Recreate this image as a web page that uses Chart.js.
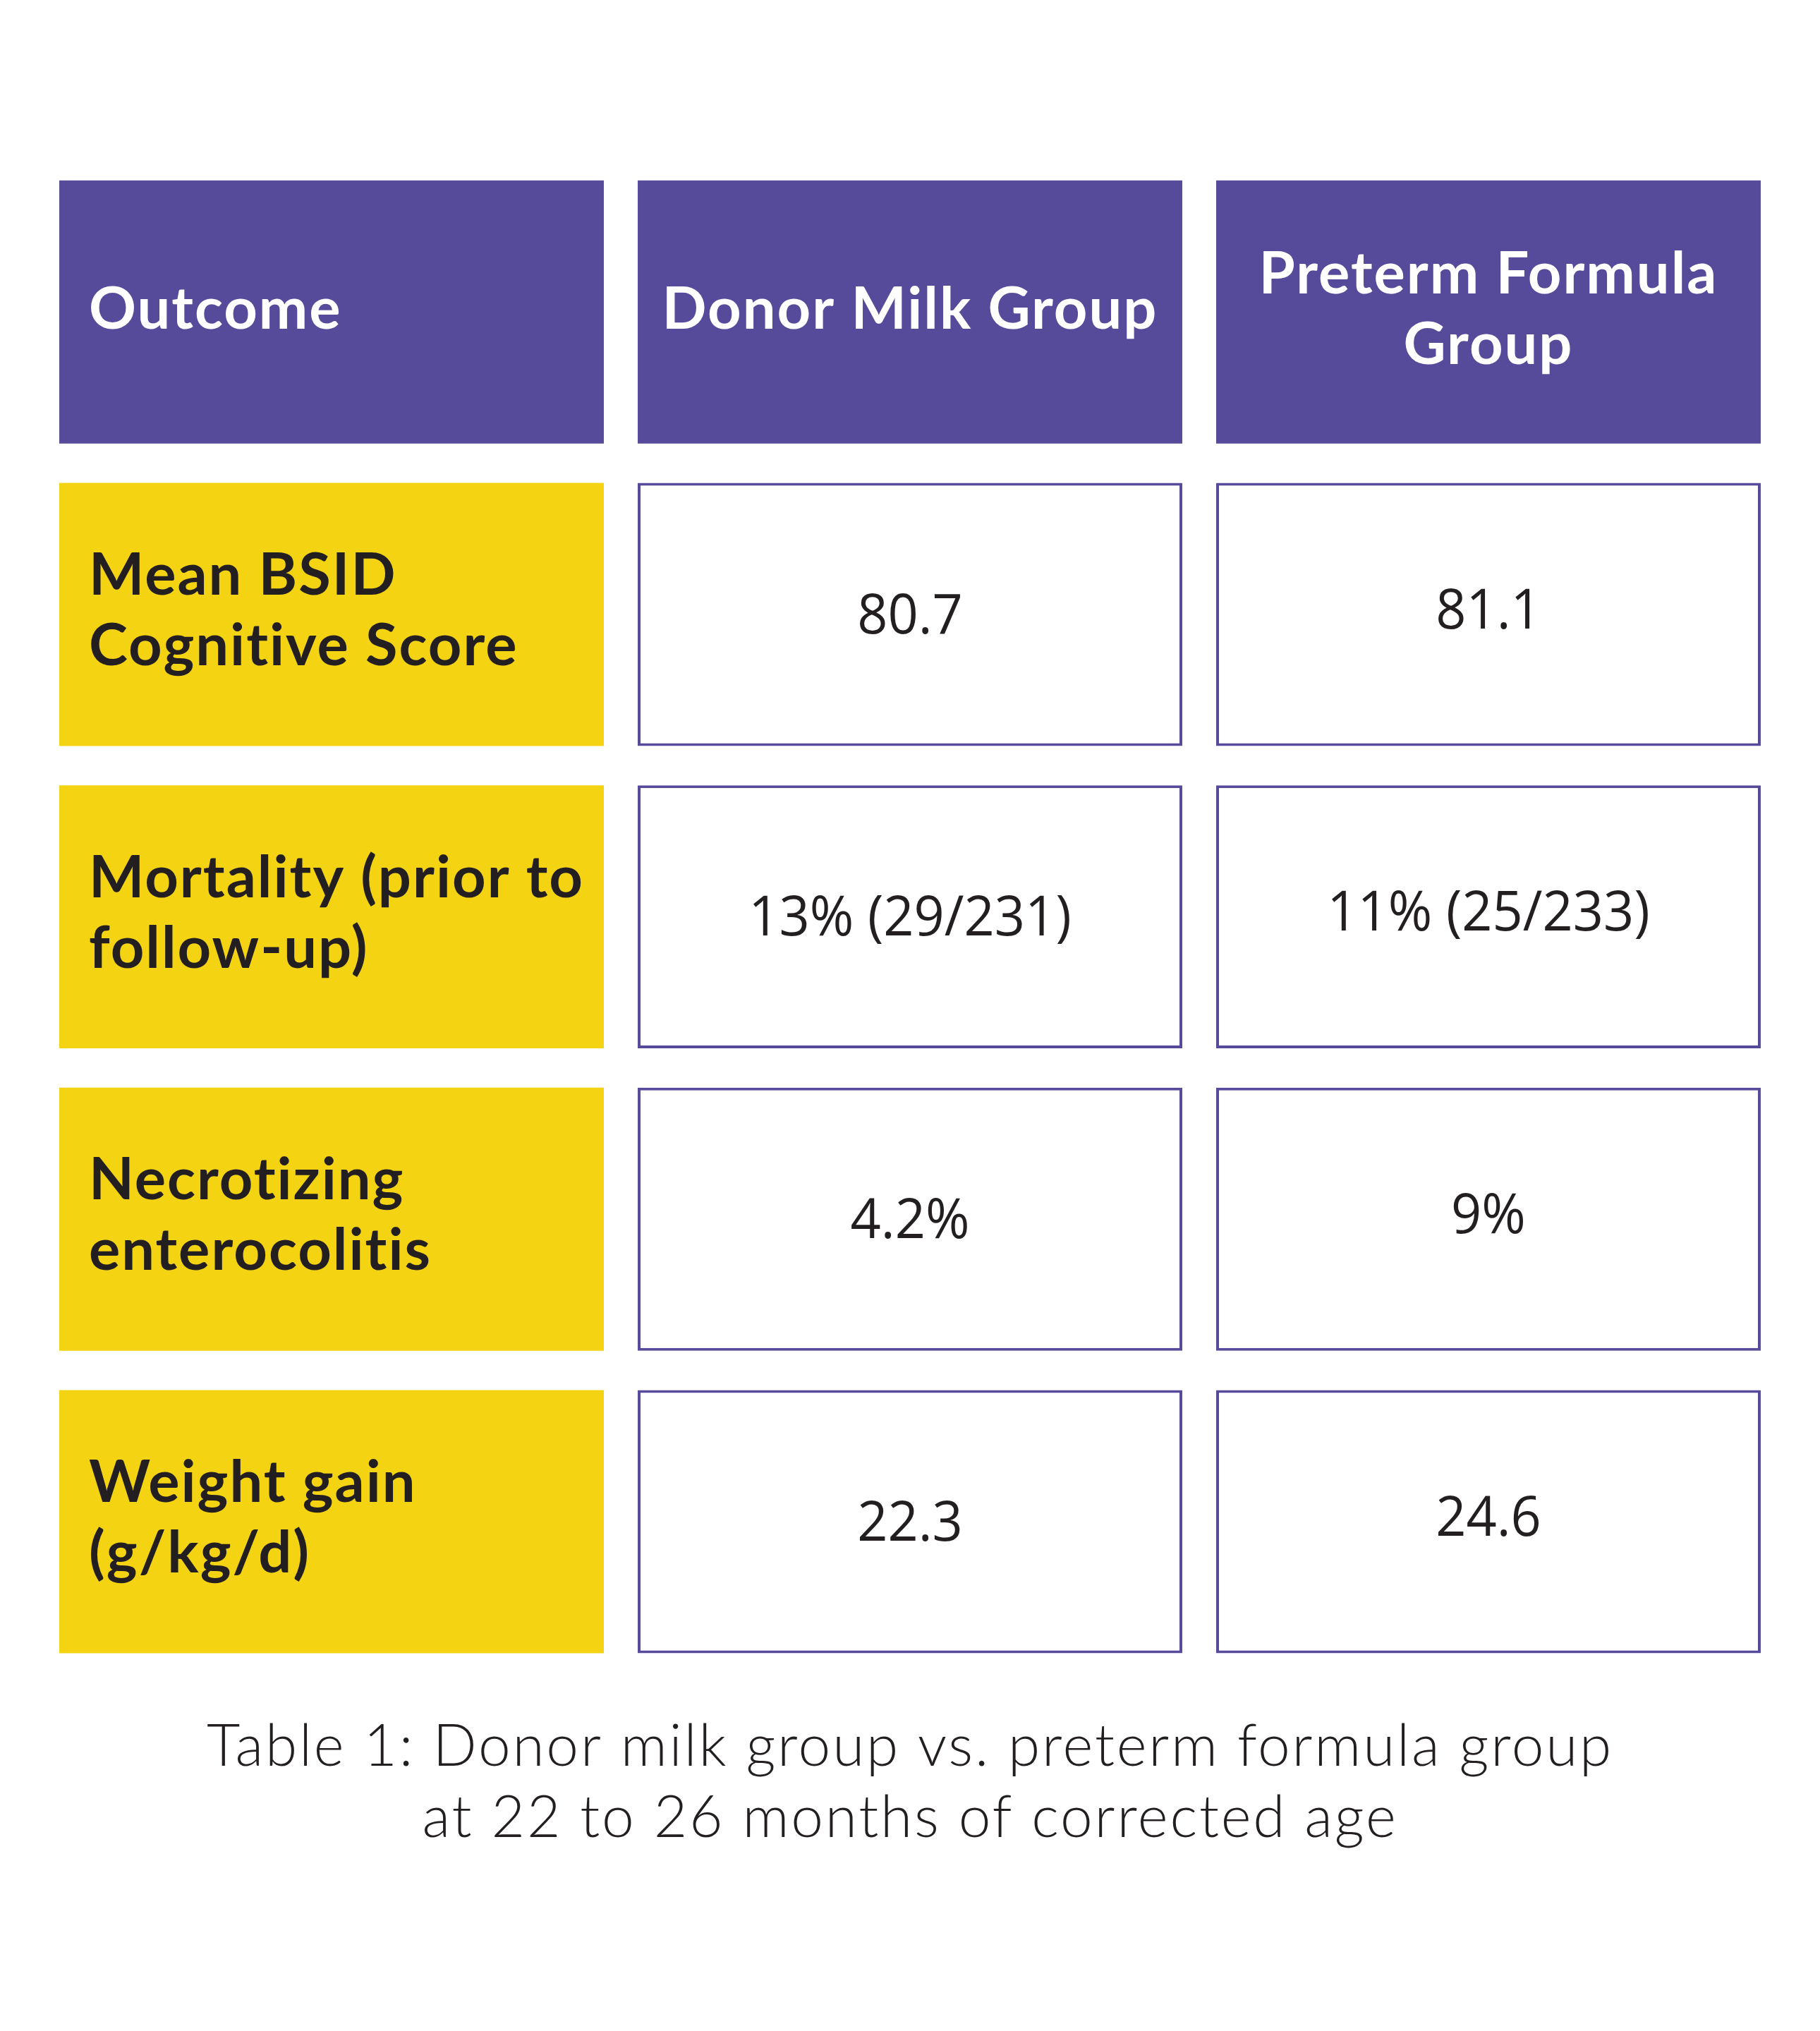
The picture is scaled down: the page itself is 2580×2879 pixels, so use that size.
<!DOCTYPE html>
<html>
<head>
<meta charset="utf-8">
<title>Table 1: Donor milk vs. preterm formula</title>
<script src="https://cdn.jsdelivr.net/npm/chart.js@4.4.1/dist/chart.umd.min.js"></script>
<style>
  html, body { margin: 0; padding: 0; background: #ffffff; }
  #wrap { width: 2580px; height: 2879px; }
</style>
</head>
<body>
<div id="wrap"><canvas id="table1" width="2580" height="2879"></canvas></div>
<script>
// table content
var columnHeads = [['Outcome'], ['Donor Milk Group'], ['Preterm Formula', 'Group']];
var outcomes = [
    ['Mean BSID', 'Cognitive Score'],
    ['Mortality (prior to', 'follow-up)'],
    ['Necrotizing', 'enterocolitis'],
    ['Weight gain', '(g/kg/d)']
];
var donorMilk = ['80.7', '13% (29/231)', '4.2%', '22.3'];
var pretermFormula = ['81.1', '11% (25/233)', '9%', '24.6'];
var caption = ['Table 1: Donor milk group vs. preterm formula group', 'at 22 to 26 months of corrected age'];

var PURPLE = '#564a9a';
var YELLOW = '#f4d312';
var INK = '#231f20';
var CELL_INSET = 0.0293;   // half the gap between columns, in column units

var rowKeys = ['head'].concat(outcomes.map(function (o) { return o.join(' '); }));
var columnCells = [
    [columnHeads[0]].concat(outcomes),
    [columnHeads[1]].concat(donorMilk),
    [columnHeads[2]].concat(pretermFormula)
];

function cellFill(ctx) {
    if (ctx.dataIndex === 0) return PURPLE;
    if (ctx.datasetIndex === 0) return YELLOW;
    return '#ffffff';
}

function cellBorder(ctx) {
    return (ctx.datasetIndex > 0 && ctx.dataIndex > 0) ? 4 : 0;
}

// each column is one dataset of floating horizontal bars, one bar per row
var datasets = columnCells.map(function (cells, c) {
    return {
        label: columnHeads[c].join(' '),
        cellText: cells,
        data: rowKeys.map(function () { return [c + CELL_INSET, c + 1 - CELL_INSET]; }),
        backgroundColor: cellFill,
        borderColor: PURPLE,
        borderWidth: cellBorder
    };
});

var cellTextPlugin = {
    id: 'cellText',
    beforeDraw: function (chart) {
        // caption font (Title plugin) runs a bit wider in the original
        chart.ctx.letterSpacing = '2.8px';
    },
    afterDatasetsDraw: function (chart) {
        var ctx = chart.ctx;
        chart.data.datasets.forEach(function (ds, c) {
            chart.getDatasetMeta(c).data.forEach(function (bar, r) {
                var lines = ds.cellText[r];
                if (!Array.isArray(lines)) lines = [lines];
                var left = Math.min(bar.x, bar.base);
                var right = Math.max(bar.x, bar.base);
                var cx = (left + right) / 2;
                var size, lh, cap, weight, family, color, align, x, cy, spacing, squeeze = 1;
                if (r === 0) {
                    size = 83; lh = 100; cap = 0.72; weight = 700; family = 'Lato';
                    color = '#ffffff'; cy = bar.y - 6; spacing = '2px';
                    align = c === 0 ? 'left' : 'center';
                    x = c === 0 ? left + 42 : cx;
                } else if (c === 0) {
                    size = 83; lh = 100; cap = 0.72; weight = 700; family = 'Lato';
                    color = INK; cy = bar.y - 8; align = 'left'; x = left + 42; spacing = '2px';
                } else {
                    size = 78; lh = 100; cap = 0.714; weight = 400; family = '"Open Sans"';
                    color = INK; cy = bar.y - (c === 2 ? 8 : 1); align = 'center'; x = cx;
                    spacing = '0px'; squeeze = 0.97;
                }
                ctx.save();
                ctx.font = weight + ' ' + size + 'px ' + family;
                ctx.letterSpacing = spacing;
                ctx.fillStyle = color;
                ctx.textBaseline = 'alphabetic';
                ctx.textAlign = align;
                var top = cy - (lines.length - 1) * lh / 2 + cap * size / 2;
                lines.forEach(function (line, i) {
                    ctx.save();
                    ctx.translate(x, top + i * lh);
                    ctx.scale(squeeze, 1);
                    ctx.fillText(line, 0, 0);
                    ctx.restore();
                });
                ctx.restore();
            });
        });
    }
};

var ctx1 = document.getElementById('table1').getContext('2d');
var table1 = new Chart(ctx1, {
    type: 'bar',
    data: {
        labels: rowKeys,
        datasets: datasets
    },
    options: {
        indexAxis: 'y',
        responsive: false,
        animation: false,
        devicePixelRatio: 1,
        events: [],
        layout: {
            padding: { left: 60, right: 60, top: 228, bottom: 251 }
        },
        datasets: {
            bar: {
                grouped: false,
                categoryPercentage: 1,
                barPercentage: 0.87,
                borderSkipped: false,
                inflateAmount: 0
            }
        },
        scales: {
            x: { type: 'linear', min: 0, max: 3, display: false },
            y: { type: 'category', display: false }
        },
        plugins: {
            colors: { enabled: false },
            legend: { display: false },
            tooltip: { enabled: false },
            title: {
                display: true,
                position: 'bottom',
                text: caption,
                color: INK,
                font: { family: 'Lato', size: 82, weight: 300, lineHeight: 1.23 },
                padding: { top: 55, bottom: 0 }
            }
        }
    },
    plugins: [cellTextPlugin]
});
</script>
</body>
</html>
